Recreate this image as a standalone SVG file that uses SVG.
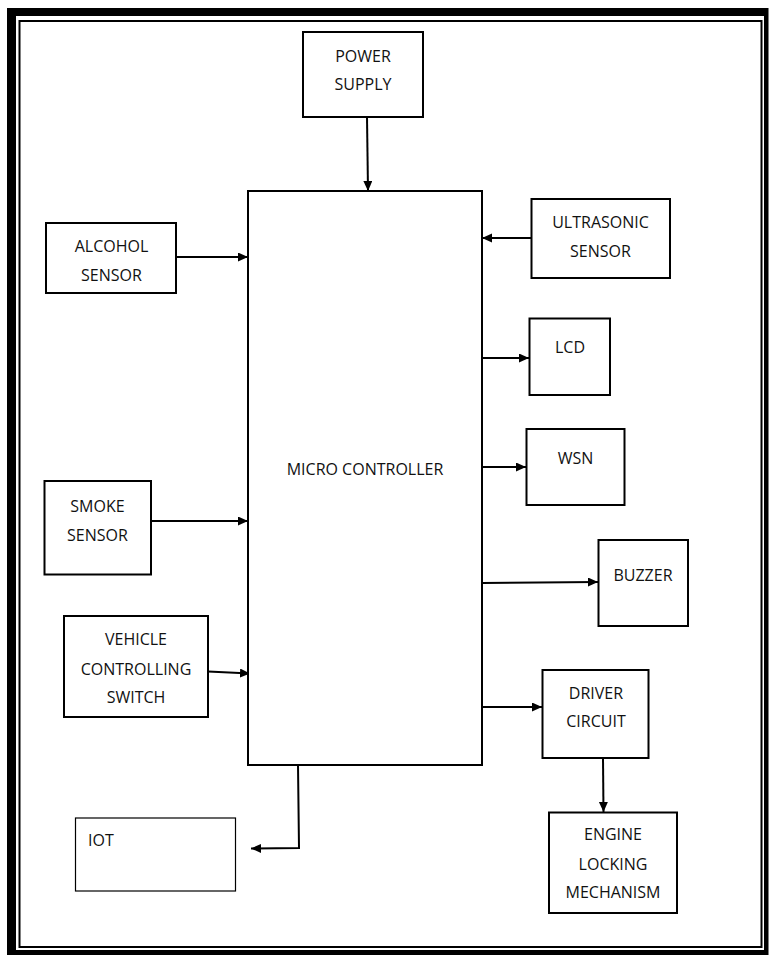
<svg xmlns="http://www.w3.org/2000/svg" width="770" height="956" viewBox="0 0 770 956">
<style>
.box{fill:#fff;stroke:#000;stroke-width:2}
.thin{fill:#fff;stroke:#000;stroke-width:1.2}
.lbl{font-family:"Open Sans","Liberation Sans",sans-serif;font-size:16px;fill:#111;text-anchor:middle}
.lft{text-anchor:start}
.conn{fill:none;stroke:#000;stroke-width:2}
</style>
<defs>
<marker id="ah" markerUnits="userSpaceOnUse" markerWidth="11" markerHeight="10" refX="10" refY="4.5" orient="auto">
<path d="M0,0 L10,4.5 L0,9 z" fill="#000"/>
</marker>
</defs>
<rect width="770" height="956" fill="#fff"/>
<g id="frame">
<rect x="7" y="8" width="761.5" height="947" fill="#000"/>
<rect x="16" y="16" width="748" height="934" fill="#fff"/>
<rect x="19.5" y="21" width="742" height="926" fill="none" stroke="#000" stroke-width="2"/>
</g>
<g id="connectors">
<line class="conn" x1="367" y1="117" x2="368" y2="191" marker-end="url(#ah)"/>
<line class="conn" x1="176" y1="257" x2="248" y2="257" marker-end="url(#ah)"/>
<line class="conn" x1="531" y1="238" x2="482" y2="238" marker-end="url(#ah)"/>
<line class="conn" x1="482" y1="358" x2="529" y2="358" marker-end="url(#ah)"/>
<line class="conn" x1="482" y1="467" x2="526" y2="467" marker-end="url(#ah)"/>
<line class="conn" x1="151" y1="521" x2="248" y2="521" marker-end="url(#ah)"/>
<line class="conn" x1="208" y1="671.5" x2="250" y2="673.5" marker-end="url(#ah)"/>
<line class="conn" x1="482" y1="583" x2="598" y2="582" marker-end="url(#ah)"/>
<line class="conn" x1="482" y1="707" x2="542" y2="707" marker-end="url(#ah)"/>
<line class="conn" x1="603" y1="758" x2="603.5" y2="812" marker-end="url(#ah)"/>
<polyline class="conn" points="298,765 299,848 251,848.5" marker-end="url(#ah)"/>
</g>
<g id="microcontroller">
<rect class="box" x="248" y="191" width="234" height="574"/>
<text class="lbl" x="365" y="475">MICRO CONTROLLER</text>
</g>
<g id="power-supply">
<rect class="box" x="303" y="32" width="120" height="85"/>
<text class="lbl" x="363" y="61.5">POWER</text>
<text class="lbl" x="363" y="89.5">SUPPLY</text>
</g>
<g id="alcohol-sensor">
<rect class="box" x="46" y="223" width="130" height="70"/>
<text class="lbl" x="111.5" y="251.5">ALCOHOL</text>
<text class="lbl" x="111.5" y="280.5">SENSOR</text>
</g>
<g id="ultrasonic-sensor">
<rect class="box" x="531.5" y="199" width="138.5" height="79"/>
<text class="lbl" x="600.5" y="228">ULTRASONIC</text>
<text class="lbl" x="600.5" y="256.5">SENSOR</text>
</g>
<g id="lcd">
<rect class="box" x="529.5" y="318.5" width="80.5" height="76.5"/>
<text class="lbl" x="570" y="353">LCD</text>
</g>
<g id="wsn">
<rect class="box" x="526.5" y="429" width="98" height="76"/>
<text class="lbl" x="575.5" y="464">WSN</text>
</g>
<g id="smoke-sensor">
<rect class="box" x="44.5" y="481" width="106.5" height="93.5"/>
<text class="lbl" x="97.5" y="511.5">SMOKE</text>
<text class="lbl" x="97.5" y="540.5">SENSOR</text>
</g>
<g id="vehicle-controlling-switch">
<rect class="box" x="64" y="616" width="144" height="101"/>
<text class="lbl" x="136" y="645">VEHICLE</text>
<text class="lbl" x="136" y="675">CONTROLLING</text>
<text class="lbl" x="136" y="703">SWITCH</text>
</g>
<g id="buzzer">
<rect class="box" x="598.5" y="540" width="89.5" height="86"/>
<text class="lbl" x="643" y="580.5">BUZZER</text>
</g>
<g id="driver-circuit">
<rect class="box" x="542.5" y="670" width="106" height="88"/>
<text class="lbl" x="596" y="699">DRIVER</text>
<text class="lbl" x="596" y="727">CIRCUIT</text>
</g>
<g id="engine-locking-mechanism">
<rect class="box" x="549" y="812.5" width="128" height="100.5"/>
<text class="lbl" x="613" y="840">ENGINE</text>
<text class="lbl" x="613" y="870">LOCKING</text>
<text class="lbl" x="613" y="898">MECHANISM</text>
</g>
<g id="iot">
<rect class="thin" x="75.5" y="818" width="160" height="73"/>
<text class="lbl lft" x="88" y="846">IOT</text>
</g>
</svg>
